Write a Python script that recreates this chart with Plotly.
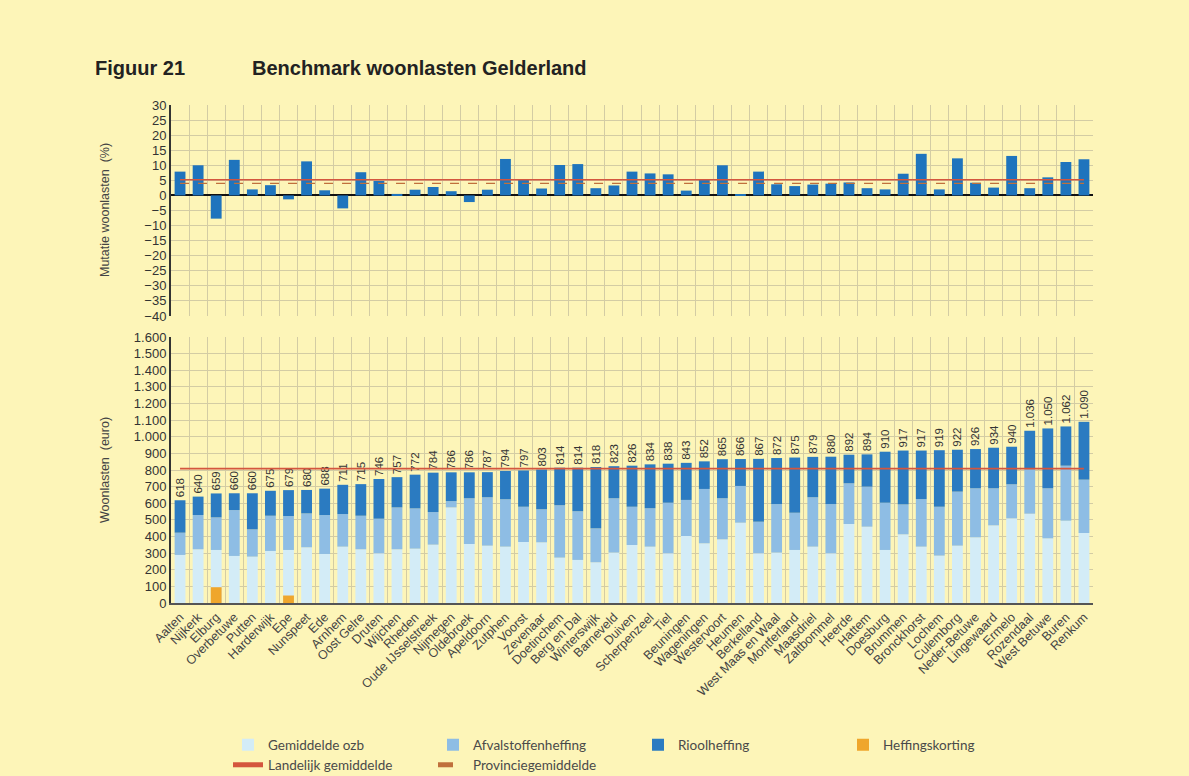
import plotly.graph_objects as go

gemeenten = ["Aalten", "Nijkerk", "Elburg", "Overbetuwe", "Putten", "Harderwijk", "Epe", "Nunspeet",
             "Ede", "Arnhem", "Oost Gelre", "Druten", "Wijchen", "Rheden", "Oude IJsselstreek",
             "Nijmegen", "Oldebroek", "Apeldoorn", "Zutphen", "Voorst", "Zevenaar", "Doetinchem",
             "Berg en Dal", "Winterswijk", "Barneveld", "Duiven", "Scherpenzeel", "Tiel", "Beuningen",
             "Wageningen", "Westervoort", "Heumen", "Berkelland", "West Maas en Waal", "Montferland",
             "Maasdriel", "Zaltbommel", "Heerde", "Hattem", "Doesburg", "Brummen", "Bronckhorst",
             "Lochem", "Culemborg", "Neder-Betuwe", "Lingewaard", "Ermelo", "Rozendaal", "West Betuwe",
             "Buren", "Renkum"]

mutatie = [7.9, 10.0, -7.7, 11.8, 2.0, 3.4, -1.3, 11.3, 1.7, -4.3, 7.7, 4.8, 0.5, 1.9, 2.8, 1.4,
           -2.2, 1.9, 12.1, 5.4, 2.3, 10.1, 10.4, 2.4, 3.3, 7.9, 7.3, 7.0, 1.6, 5.3, 10.0, 0.4, 7.9,
           3.7, 3.1, 3.6, 3.9, 4.3, 2.4, 2.0, 7.2, 13.8, 2.0, 12.3, 4.2, 2.6, 13.1, 2.4, 6.0, 11.1, 12.0]

ozb = [289, 323, 319, 283, 279, 313, 319, 335, 295, 339, 323, 299, 323, 327, 351, 575, 355, 345,
       339, 367, 365, 273, 259, 245, 303, 349, 339, 299, 403, 359, 383, 483, 299, 303, 319, 339,
       299, 475, 459, 319, 413, 339, 285, 345, 395, 467, 509, 537, 389, 495, 421]
afval = [134, 206, 196, 276, 164, 212, 204, 204, 234, 196, 202, 208, 252, 242, 196, 38, 275, 291,
         285, 212, 199, 315, 293, 204, 327, 230, 231, 304, 217, 327, 247, 221, 190, 292, 224, 297,
         296, 245, 241, 284, 180, 286, 294, 325, 295, 223, 205, 268, 301, 331, 321]
riool = [195, 111, 144, 101, 217, 150, 156, 141, 159, 176, 190, 239, 182, 203, 237, 173, 156, 151,
         170, 218, 239, 226, 262, 369, 193, 247, 264, 235, 223, 166, 235, 162, 378, 277, 332, 243,
         285, 172, 194, 307, 324, 292, 340, 252, 236, 244, 226, 231, 360, 236, 348]
korting = [0, 0, 95, 0, 0, 0, 45, 0, 0, 0, 0, 0, 0, 0, 0, 0, 0, 0, 0, 0, 0, 0, 0, 0, 0, 0, 0, 0,
           0, 0, 0, 0, 0, 0, 0, 0, 0, 0, 0, 0, 0, 0, 0, 0, 0, 0, 0, 0, 0, 0, 0]

landelijk_mutatie = 5.2
provincie_mutatie = 4.0
landelijk_woonlasten = 808

y_ticks_top = list(range(-40, 31, 5))
y_ticks_bottom = list(range(0, 1601, 100))

totaal = [a + b + c for a, b, c in zip(ozb, afval, riool)]
totaal_txt = [f"{t:,}".replace(",", ".") for t in totaal]
base_afval = list(ozb)
base_riool = [a + b for a, b in zip(ozb, afval)]

BG = "#FDF5B8"
GRID = "#D3CCA4"
C_OZB = "#D3ECF7"
C_AFVAL = "#8EBDE4"
C_RIOOL = "#2B7BC1"
C_KORT = "#EFA62C"
C_LAND = "#D4563E"
C_PROV = "#C0703C"
TXT = "#333333"
FONT = "Liberation Sans, Arial, sans-serif"

fig = go.Figure()

# bottom chart (x, y)
fig.add_trace(go.Bar(x=gemeenten, y=ozb, name="Gemiddelde ozb", marker_color=C_OZB,
                     marker_line_width=0, xaxis="x", yaxis="y", legend="legend"))
fig.add_trace(go.Bar(x=gemeenten, y=afval, base=base_afval, name="Afvalstoffenheffing",
                     marker_color=C_AFVAL, marker_line_width=0, xaxis="x", yaxis="y", legend="legend"))
fig.add_trace(go.Bar(x=gemeenten, y=riool, base=base_riool, name="Rioolheffing",
                     marker_color=C_RIOOL, marker_line_width=0, xaxis="x", yaxis="y",
                     text=totaal_txt, textposition="outside", textangle=-90,
                     constraintext="none", cliponaxis=False,
                     textfont=dict(family=FONT, size=11.5, color=TXT), legend="legend"))
fig.add_trace(go.Bar(x=gemeenten, y=korting, name="Heffingskorting", marker_color=C_KORT,
                     marker_line_width=0, xaxis="x", yaxis="y", legend="legend"))
fig.add_trace(go.Scatter(x=gemeenten, y=[landelijk_woonlasten] * len(gemeenten), mode="lines",
                         line=dict(color=C_LAND, width=1.6), showlegend=False,
                         xaxis="x", yaxis="y", hoverinfo="skip"))

# top chart (x2, y2)
fig.add_trace(go.Bar(x=gemeenten, y=mutatie, marker_color="#1F74BD", marker_line_width=0,
                     showlegend=False, xaxis="x2", yaxis="y2"))
fig.add_trace(go.Scatter(x=gemeenten, y=[landelijk_mutatie] * len(gemeenten), mode="lines",
                         line=dict(color=C_LAND, width=1.6), name="Landelijk gemiddelde",
                         xaxis="x2", yaxis="y2", legend="legend2"))
fig.add_trace(go.Scatter(x=gemeenten, y=[provincie_mutatie] * len(gemeenten), mode="lines",
                         line=dict(color=C_PROV, width=1.4, dash="dash"), name="Provinciegemiddelde",
                         xaxis="x2", yaxis="y2", legend="legend2"))

W, H = 1189, 776
xd = [171 / W, 1093 / W]

leg_common = dict(orientation="h", xanchor="left", yanchor="middle",
                  entrywidth=160, entrywidthmode="pixels", traceorder="normal",
                  font=dict(family="Lato, sans-serif", size=13.5, color="#4a4a4a"),
                  bgcolor="rgba(0,0,0,0)", itemsizing="constant", tracegroupgap=0)

fig.update_layout(
    width=W, height=H,
    margin=dict(l=0, r=0, t=0, b=0, autoexpand=False),
    paper_bgcolor=BG, plot_bgcolor=BG,
    barmode="overlay", bargap=0.4,
    separators=",.",
    font=dict(family=FONT, size=12, color=TXT),
    showlegend=True,
    legend=dict(x=228 / W, y=1 - 745 / H, **leg_common),
    legend2=dict(x=228 / W, y=1 - 765 / H, **leg_common),
    xaxis=dict(domain=xd, anchor="y", type="category", categoryorder="array",
               categoryarray=gemeenten, tickson="boundaries", showgrid=True, gridcolor=GRID,
               gridwidth=1, ticks="", tickangle=-45, showline=True, linecolor="#555555",
               linewidth=2, tickfont=dict(family=FONT, size=12.5, color="#444444"),
               automargin=False),
    yaxis=dict(domain=[1 - 603 / H, 1 - 337 / H], anchor="x", range=[0, 1600],
               tickvals=y_ticks_bottom, tickformat=",d", showgrid=True, gridcolor=GRID,
               gridwidth=1, showline=True, linecolor="#333333", linewidth=2, ticks="",
               zeroline=False, tickfont=dict(family=FONT, size=13, color=TXT), automargin=False),
    xaxis2=dict(domain=xd, anchor="y2", type="category", categoryorder="array",
                categoryarray=gemeenten, tickson="boundaries", showgrid=True, gridcolor=GRID,
                gridwidth=1, ticks="", showticklabels=False, showline=False, automargin=False),
    yaxis2=dict(domain=[1 - 316 / H, 1 - 105 / H], anchor="x2", range=[-40, 30],
                tickvals=y_ticks_top, showgrid=True, gridcolor=GRID, gridwidth=1,
                showline=True, linecolor="#333333", linewidth=2, ticks="",
                zeroline=True, zerolinecolor="#111111", zerolinewidth=1.5,
                tickfont=dict(family=FONT, size=13, color=TXT), automargin=False),
    annotations=[
        dict(text="<b>Figuur 21</b>", x=93 / W, y=1 - 68 / H, xref="paper", yref="paper",
             xanchor="left", yanchor="middle", showarrow=False,
             font=dict(family=FONT, size=20, color="#222222")),
        dict(text="<b>Benchmark woonlasten Gelderland</b>", x=250 / W, y=1 - 68 / H,
             xref="paper", yref="paper", xanchor="left", yanchor="middle", showarrow=False,
             font=dict(family=FONT, size=20, color="#222222")),
        dict(text="Mutatie woonlasten  (%)", x=105 / W, y=1 - 210 / H, xref="paper",
             yref="paper", textangle=-90, showarrow=False, xanchor="center", yanchor="middle",
             font=dict(family=FONT, size=12.5, color="#444444")),
        dict(text="Woonlasten  (euro)", x=105 / W, y=1 - 470 / H, xref="paper",
             yref="paper", textangle=-90, showarrow=False, xanchor="center", yanchor="middle",
             font=dict(family=FONT, size=12.5, color="#444444")),
    ],
)

fig.write_html("out.html", config={"displayModeBar": False},
               post_script="document.body.style.margin='0';"
                           "document.body.style.background='" + BG + "';")
